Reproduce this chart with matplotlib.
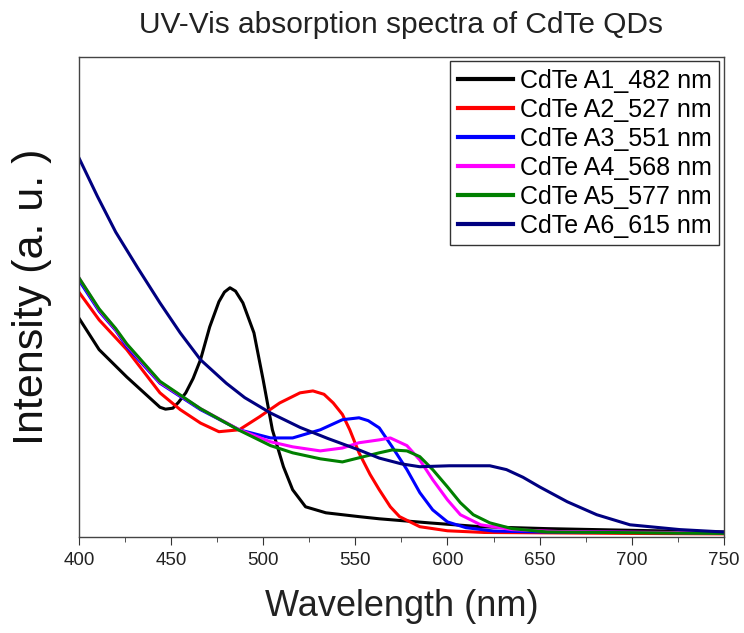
import matplotlib
matplotlib.use("Agg")
import matplotlib.pyplot as plt
from matplotlib.ticker import MultipleLocator

plt.rcParams["font.family"] = ["Liberation Sans", "DejaVu Sans"]

# wavelength (nm) / intensity (a.u.)
wl_a1 = [400, 411, 426, 444, 447, 451, 454, 458, 462, 466, 471, 476, 479, 482,
         485, 489, 495, 500, 505, 511, 516, 523, 534, 552, 563, 590, 618, 654, 680, 720, 750]
int_a1 = [0.456, 0.39, 0.333, 0.27, 0.266, 0.268, 0.28, 0.30, 0.33, 0.369, 0.4375, 0.49, 0.51, 0.519,
          0.512, 0.4875, 0.425, 0.327, 0.223, 0.146, 0.098, 0.0625, 0.05, 0.042, 0.0375, 0.029, 0.021, 0.017, 0.015, 0.012, 0.01]

wl_a2 = [400, 411, 426, 444, 455, 466, 476, 487, 498, 509, 520, 527, 533, 538, 543, 547,
         552, 558, 563, 569, 574, 585, 600, 620, 700, 750]
int_a2 = [0.51, 0.452, 0.39, 0.30, 0.265, 0.237, 0.219, 0.223, 0.25, 0.279, 0.30, 0.304, 0.297, 0.279, 0.255, 0.223,
          0.175, 0.13, 0.098, 0.0625, 0.042, 0.021, 0.0125, 0.009, 0.007, 0.006]

wl_a3 = [400, 411, 420, 426, 444, 466, 487, 504, 516, 531, 543, 552, 557, 563, 570, 578,
         585, 592, 600, 610, 625, 650, 750]
int_a3 = [0.535, 0.47, 0.43, 0.396, 0.32, 0.265, 0.223, 0.206, 0.206, 0.223, 0.244, 0.248, 0.242, 0.227, 0.1875, 0.14,
          0.092, 0.056, 0.031, 0.019, 0.012, 0.01, 0.008]

wl_a4 = [400, 411, 420, 426, 444, 466, 487, 504, 516, 531, 543, 552, 563, 569, 578, 585,
         592, 600, 607, 618, 635, 660, 750]
int_a4 = [0.54, 0.473, 0.432, 0.40, 0.322, 0.267, 0.223, 0.198, 0.1875, 0.179, 0.185, 0.196, 0.202, 0.206, 0.19, 0.16,
          0.119, 0.077, 0.046, 0.025, 0.015, 0.011, 0.008]

wl_a5 = [400, 411, 420, 426, 444, 466, 487, 504, 516, 531, 543, 552, 563, 570, 578, 585,
         592, 600, 607, 614, 623, 635, 654, 750]
int_a5 = [0.54, 0.475, 0.434, 0.402, 0.324, 0.267, 0.222, 0.19, 0.175, 0.1625, 0.156, 0.1646, 0.175, 0.181, 0.179, 0.167,
          0.14, 0.104, 0.071, 0.046, 0.029, 0.017, 0.01, 0.007]

wl_a6 = [400, 410, 420, 432, 444, 455, 466, 480, 490, 504, 520, 535, 552, 563, 575, 585,
         601, 623, 632, 641, 650, 665, 681, 699, 726, 750]
int_a6 = [0.79, 0.71, 0.635, 0.56, 0.4875, 0.425, 0.369, 0.32, 0.29, 0.258, 0.228, 0.205, 0.181, 0.164, 0.152, 0.146,
          0.148, 0.148, 0.140, 0.124, 0.104, 0.073, 0.046, 0.025, 0.015, 0.01]

labels = ["CdTe A1_482 nm", "CdTe A2_527 nm", "CdTe A3_551 nm",
          "CdTe A4_568 nm", "CdTe A5_577 nm", "CdTe A6_615 nm"]
colors = ["black", "red", "blue", "magenta", "green", "navy"]

series = [(wl_a1, int_a1), (wl_a2, int_a2), (wl_a3, int_a3),
          (wl_a4, int_a4), (wl_a5, int_a5), (wl_a6, int_a6)]

fig = plt.figure(figsize=(7.44, 6.33), dpi=100)
ax = fig.add_axes([0.106, 0.152, 0.867, 0.758])

for (x, y), lab, c in zip(series, labels, colors):
    ax.plot(x, y, color=c, linewidth=2.2, label=lab)

ax.set_xlim(400, 750)
ax.set_ylim(0, 1)
ax.xaxis.set_major_locator(MultipleLocator(50))
ax.xaxis.set_minor_locator(MultipleLocator(25))
ax.tick_params(axis="x", which="major", direction="out", length=6, labelsize=13.5,
               colors="#333333", pad=5)
ax.tick_params(axis="x", which="minor", direction="out", length=3.5, colors="#333333")
ax.tick_params(axis="x", labelcolor="#222222")
ax.set_yticks([])
for sp in ax.spines.values():
    sp.set_color("#444444")
    sp.set_linewidth(1.0)

ax.set_xlabel("Wavelength (nm)", fontsize=26, color="#222222", labelpad=14)
ax.set_ylabel("Intensity (a. u. )", fontsize=31, color="#111111", labelpad=19)
ax.set_title("UV-Vis absorption spectra of CdTe QDs", fontsize=21.5, color="#222222", pad=17)

leg = ax.legend(loc="upper right", fontsize=18, frameon=True, fancybox=False,
                edgecolor="black", handlelength=2.2, handletextpad=0.3,
                labelspacing=0.2, borderpad=0.3, borderaxespad=0.18)
leg.get_frame().set_linewidth(1.0)
for h in leg.get_lines():
    h.set_linewidth(3.0)

fig.savefig("out.png", dpi=100)
